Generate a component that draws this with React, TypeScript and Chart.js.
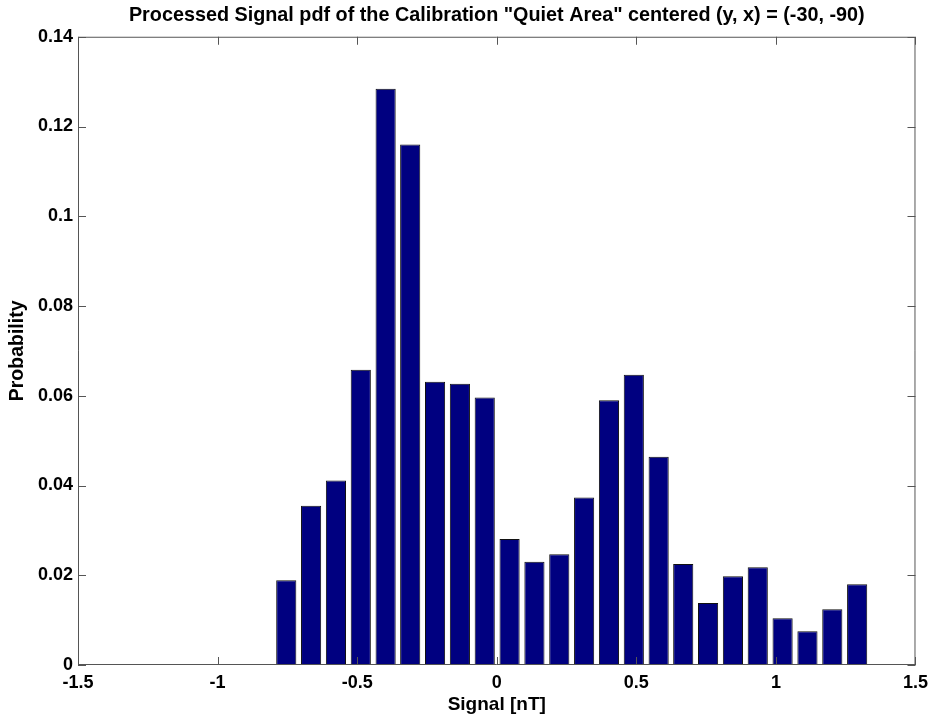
import React, { useEffect, useRef } from "react";
import { Chart, registerables } from "chart.js";

Chart.register(...registerables);

const binCenters = [
  -0.754, -0.665, -0.576, -0.487, -0.398, -0.31, -0.221, -0.132, -0.043, 0.046,
  0.135, 0.224, 0.313, 0.402, 0.491, 0.58, 0.668, 0.757, 0.846, 0.935, 1.024,
  1.113, 1.202, 1.291,
];
const probabilities = [
  0.0189, 0.0355, 0.0411, 0.0658, 0.1284, 0.116, 0.0631, 0.0627, 0.0596, 0.0281,
  0.023, 0.0247, 0.0373, 0.059, 0.0647, 0.0464, 0.0225, 0.0138, 0.0198, 0.0218,
  0.0104, 0.0075, 0.0124, 0.018,
];
const xTickLabels = ["-1.5", "-1", "-0.5", "0", "0.5", "1", "1.5"];
const yTickLabels = ["0", "0.02", "0.04", "0.06", "0.08", "0.1", "0.12", "0.14"];
const titleText = 'Processed Signal pdf of the Calibration "Quiet Area" centered (y, x) = (-30, -90)';
const xTitle = "Signal [nT]";
const yTitle = "Probability";

const FONT = "'Liberation Sans', Arial, Helvetica, sans-serif";

const boxTicksPlugin = {
  id: "boxTicks",
  afterDatasetsDraw(chart: any) {
    const { ctx, chartArea, scales } = chart;
    const { left, right, top, bottom } = chartArea;
    const len = 8;
    ctx.save();
    ctx.strokeStyle = "#555";
    ctx.lineWidth = 1;
    ctx.beginPath();
    ctx.rect(left + 0.5, top + 0.5, right - left - 1, bottom - top - 1);
    ctx.stroke();
    ctx.beginPath();
    scales.x.ticks.forEach((t: any) => {
      const px = Math.round(scales.x.getPixelForValue(t.value)) + 0.5;
      ctx.moveTo(px, bottom);
      ctx.lineTo(px, bottom - len);
      ctx.moveTo(px, top);
      ctx.lineTo(px, top + len);
    });
    scales.y.ticks.forEach((t: any) => {
      const py = Math.round(scales.y.getPixelForValue(t.value)) + 0.5;
      ctx.moveTo(left, py);
      ctx.lineTo(left + len, py);
      ctx.moveTo(right, py);
      ctx.lineTo(right - len, py);
    });
    ctx.stroke();
    ctx.restore();
  },
};

export default function App() {
  const ref = useRef<HTMLCanvasElement | null>(null);
  useEffect(() => {
    if (!ref.current) return;
    const chart = new Chart(ref.current, {
      type: "bar",
      data: {
        datasets: [
          {
            data: binCenters.map((x, i) => ({ x, y: probabilities[i] })),
            backgroundColor: "#000080",
            borderColor: "#111",
            borderWidth: 1,
            barPercentage: 0.82,
            categoryPercentage: 1,
          },
        ],
      },
      options: {
        responsive: false,
        animation: false,
        layout: { padding: { left: 0, right: 18, top: 0, bottom: 0 } },
        plugins: {
          legend: { display: false },
          tooltip: { enabled: false },
          title: {
            display: true,
            text: titleText,
            fullSize: false,
            color: "#000",
            font: { family: FONT, size: 19.8, weight: "bold", lineHeight: 1.2 },
            padding: { top: 4, bottom: 9 },
          },
        },
        scales: {
          x: {
            type: "linear",
            min: -1.5,
            max: 1.5,
            offset: false,
            grid: { display: false, drawTicks: false, offset: false },
            border: { display: false },
            afterFit: (s: any) => {
              s.height = 54;
            },
            ticks: {
              stepSize: 0.5,
              padding: 7,
              color: "#000",
              maxRotation: 0,
              font: { family: FONT, size: 18, weight: "bold" },
              callback: (_v: any, i: number) => xTickLabels[i],
            },
            title: {
              display: true,
              text: xTitle,
              color: "#000",
              font: { family: FONT, size: 19, weight: "bold" },
              padding: { top: 0, bottom: 3 },
            },
          },
          y: {
            min: 0,
            max: 0.14,
            grid: { display: false, drawTicks: false },
            border: { display: false },
            afterFit: (s: any) => {
              s.width = 78;
            },
            ticks: {
              stepSize: 0.02,
              padding: 5,
              color: "#000",
              font: { family: FONT, size: 18, weight: "bold" },
              callback: (_v: any, i: number) => yTickLabels[i],
            },
            title: {
              display: true,
              text: yTitle,
              color: "#000",
              font: { family: FONT, size: 19.5, weight: "bold" },
              padding: { top: 6, bottom: 0 },
            },
          },
        },
      },
      plugins: [boxTicksPlugin],
    });
    return () => chart.destroy();
  }, []);
  return (
    <div style={{ position: "fixed", left: 0, top: 0, width: 935, height: 719, background: "#fff" }}>
      <canvas ref={ref} width={935} height={719} style={{ display: "block" }} />
    </div>
  );
}
